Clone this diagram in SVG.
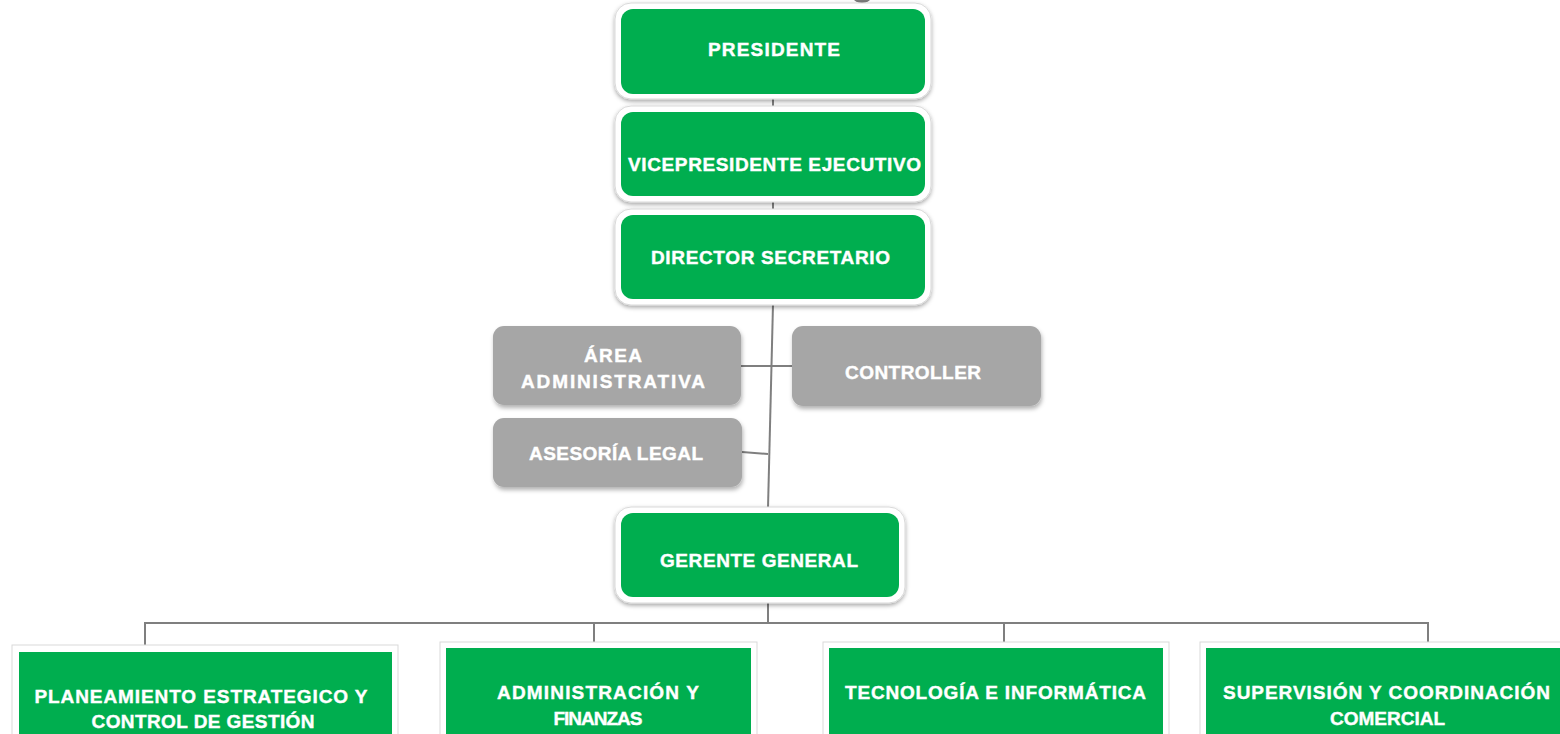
<svg xmlns="http://www.w3.org/2000/svg" width="1560" height="734" viewBox="0 0 1560 734">
  <defs>
    <filter id="sh" x="-10%" y="-10%" width="120%" height="130%">
      <feDropShadow dx="0" dy="2" stdDeviation="2" flood-color="#000" flood-opacity="0.35"/>
    </filter>
    <filter id="shg" x="-10%" y="-10%" width="120%" height="130%">
      <feDropShadow dx="1" dy="3" stdDeviation="2" flood-color="#000" flood-opacity="0.3"/>
    </filter>
  </defs>
  <style>
    .frame { fill: #ffffff; stroke: #d9d9d9; stroke-width: 1; }
    .green { fill: #00ae4f; }
    .gray { fill: #a6a6a6; }
    .lbl { font-family: "Liberation Sans", Arial, sans-serif; font-weight: bold; font-size: 19px; fill: #ffffff; stroke: #ffffff; stroke-width: 0.4; text-anchor: middle; }
    .conn { stroke: #7f7f7f; stroke-width: 2; fill: none; }
  </style>
  <rect width="1560" height="734" fill="#ffffff"/>
  <ellipse cx="862" cy="-3" rx="9" ry="6" fill="#7a7a7a"/>

  <g id="connectors">
    <line class="conn" x1="773" y1="98" x2="773" y2="108"/>
    <line class="conn" x1="773" y1="201" x2="773" y2="211"/>
    <line class="conn" x1="773" y1="304" x2="768" y2="508"/>
    <line class="conn" x1="741" y1="366" x2="792" y2="366"/>
    <line class="conn" x1="742" y1="452" x2="768" y2="454"/>
    <line class="conn" x1="768" y1="602" x2="768" y2="623"/>
    <line class="conn" x1="145" y1="623" x2="1428" y2="623"/>
    <line class="conn" x1="145" y1="622" x2="145" y2="646"/>
    <line class="conn" x1="594" y1="622" x2="594" y2="642"/>
    <line class="conn" x1="1004" y1="622" x2="1004" y2="642"/>
    <line class="conn" x1="1428" y1="622" x2="1428" y2="642"/>
  </g>

  <g id="presidente">
    <rect class="frame" x="615" y="3" width="316" height="96" rx="16" filter="url(#sh)"/>
    <rect class="green" x="621" y="9" width="304" height="85" rx="12"/>
    <text class="lbl" x="774" y="56" textLength="132" lengthAdjust="spacing">PRESIDENTE</text>
  </g>

  <g id="vicepresidente">
    <rect class="frame" x="615" y="106" width="316" height="96" rx="16" filter="url(#sh)"/>
    <rect class="green" x="621" y="112" width="304" height="84" rx="12"/>
    <text class="lbl" x="774.5" y="171" textLength="293" lengthAdjust="spacing">VICEPRESIDENTE EJECUTIVO</text>
  </g>

  <g id="director">
    <rect class="frame" x="615" y="209" width="316" height="96" rx="16" filter="url(#sh)"/>
    <rect class="green" x="621" y="215" width="304" height="84" rx="12"/>
    <text class="lbl" x="770.5" y="264" textLength="239" lengthAdjust="spacing">DIRECTOR SECRETARIO</text>
  </g>

  <g id="area-administrativa">
    <rect class="gray" x="493" y="326" width="248" height="79" rx="11" filter="url(#shg)"/>
    <text class="lbl" x="613" y="362" textLength="58" lengthAdjust="spacing">ÁREA</text>
    <text class="lbl" x="613" y="388" textLength="184" lengthAdjust="spacing">ADMINISTRATIVA</text>
  </g>

  <g id="controller">
    <rect class="gray" x="792" y="326" width="249" height="80" rx="11" filter="url(#shg)"/>
    <text class="lbl" x="913" y="379" textLength="136" lengthAdjust="spacing">CONTROLLER</text>
  </g>

  <g id="asesoria-legal">
    <rect class="gray" x="493" y="418" width="249" height="69" rx="11" filter="url(#shg)"/>
    <text class="lbl" x="616" y="460" textLength="174" lengthAdjust="spacing">ASESORÍA LEGAL</text>
  </g>

  <g id="gerente-general">
    <rect class="frame" x="615" y="507" width="290" height="96" rx="16" filter="url(#sh)"/>
    <rect class="green" x="621" y="513" width="278" height="84" rx="12"/>
    <text class="lbl" x="759" y="567" textLength="198" lengthAdjust="spacing">GERENTE GENERAL</text>
  </g>

  <g id="planeamiento">
    <rect class="frame" x="12" y="645" width="386" height="100"/>
    <rect class="green" x="19" y="652" width="373" height="90"/>
    <text class="lbl" x="201" y="703" textLength="333" lengthAdjust="spacing">PLANEAMIENTO ESTRATEGICO Y</text>
    <text class="lbl" x="203" y="728" textLength="223" lengthAdjust="spacing">CONTROL DE GESTIÓN</text>
  </g>

  <g id="administracion">
    <rect class="frame" x="440" y="642" width="317" height="100"/>
    <rect class="green" x="446" y="648" width="305" height="90"/>
    <text class="lbl" x="598" y="699" textLength="202" lengthAdjust="spacing">ADMINISTRACIÓN Y</text>
    <text class="lbl" x="598" y="725" textLength="89" lengthAdjust="spacing">FINANZAS</text>
  </g>

  <g id="tecnologia">
    <rect class="frame" x="823" y="642" width="346" height="100"/>
    <rect class="green" x="829" y="648" width="334" height="90"/>
    <text class="lbl" x="995.5" y="699" textLength="301" lengthAdjust="spacing">TECNOLOGÍA E INFORMÁTICA</text>
  </g>

  <g id="supervision">
    <rect class="frame" x="1200" y="642" width="370" height="100"/>
    <rect class="green" x="1206" y="648" width="360" height="90"/>
    <text class="lbl" x="1386.5" y="699" textLength="327" lengthAdjust="spacing">SUPERVISIÓN Y COORDINACIÓN</text>
    <text class="lbl" x="1387.5" y="725" textLength="115" lengthAdjust="spacing">COMERCIAL</text>
  </g>
</svg>
